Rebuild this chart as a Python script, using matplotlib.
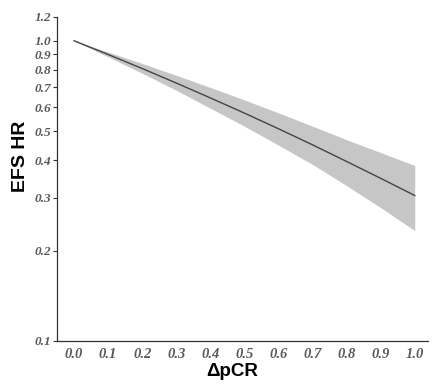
import matplotlib
matplotlib.use("Agg")
import matplotlib.pyplot as plt
from matplotlib.ticker import FixedLocator, NullLocator

dpcr = [0.0, 0.1, 0.2, 0.3, 0.4, 0.5, 0.6, 0.7, 0.8, 0.9, 1.0]
hr_center = [1.000, 0.900, 0.808, 0.723, 0.645, 0.574, 0.509, 0.450, 0.396, 0.348, 0.305]
hr_upper = [1.000, 0.917, 0.840, 0.767, 0.699, 0.635, 0.575, 0.519, 0.468, 0.424, 0.384]
hr_lower = [1.000, 0.884, 0.779, 0.684, 0.596, 0.519, 0.449, 0.387, 0.329, 0.278, 0.233]

yticks = [0.1, 0.2, 0.3, 0.4, 0.5, 0.6, 0.7, 0.8, 0.9, 1.0, 1.2]
ytick_labels = ["0.1", "0.2", "0.3", "0.4", "0.5", "0.6", "0.7", "0.8", "0.9", "1.0", "1.2"]
xticks = [0.0, 0.1, 0.2, 0.3, 0.4, 0.5, 0.6, 0.7, 0.8, 0.9, 1.0]
xtick_labels = ["0.0", "0.1", "0.2", "0.3", "0.4", "0.5", "0.6", "0.7", "0.8", "0.9", "1.0"]

fig = plt.figure(figsize=(4.32, 3.86), dpi=100)
ax = fig.add_axes([0.132, 0.117, 0.858, 0.839])

ax.fill_between(dpcr, hr_lower, hr_upper, color="#c6c6c6", linewidth=0)
ax.plot(dpcr, hr_center, color="#444444", linewidth=1.0)

ax.set_yscale("log")
ax.set_ylim(0.1, 1.2)
ax.set_xlim(-0.05, 1.038)

ax.yaxis.set_major_locator(FixedLocator(yticks))
ax.yaxis.set_minor_locator(NullLocator())
ax.set_yticklabels(ytick_labels)
ax.set_xticks(xticks)
ax.set_xticklabels(xtick_labels)

for lab in ax.get_yticklabels():
    lab.set_fontfamily("Liberation Serif")
    lab.set_fontstyle("italic")
    lab.set_fontweight("bold")
    lab.set_fontsize(9.5)
    lab.set_color("#5a5a5a")
for lab in ax.get_xticklabels():
    lab.set_fontfamily("Liberation Serif")
    lab.set_fontstyle("italic")
    lab.set_fontweight("bold")
    lab.set_fontsize(10.5)
    lab.set_color("#5a5a5a")

ax.tick_params(axis="y", length=3, width=0.8, color="#333333", pad=1)
ax.tick_params(axis="x", length=0, pad=5)

for s in ["top", "right"]:
    ax.spines[s].set_visible(False)
for s in ["left", "bottom"]:
    ax.spines[s].set_color("#333333")
    ax.spines[s].set_linewidth(0.9)

ax.set_ylabel("EFS HR", fontfamily="Liberation Sans", fontweight="bold", fontsize=14)
ax.yaxis.set_label_coords(-0.075, 0.57)
ax.set_xlabel("\u0394pCR", fontfamily="Liberation Sans", fontweight="bold", fontsize=13.5)
ax.xaxis.set_label_coords(0.473, -0.069)

fig.savefig("out.png", dpi=100)
